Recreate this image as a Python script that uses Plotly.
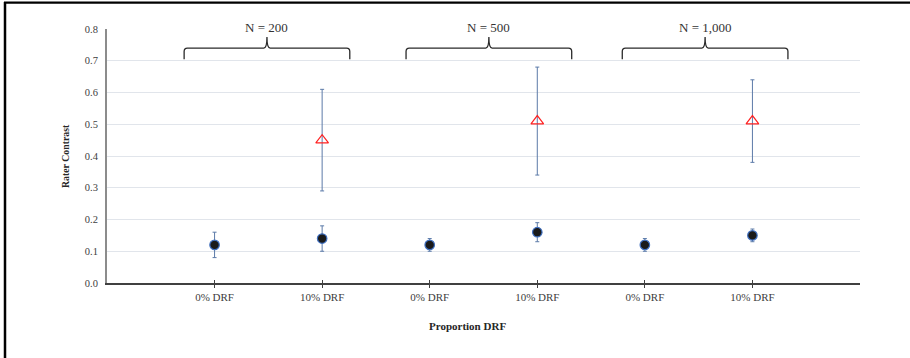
import plotly.graph_objects as go

# ---- data ----
categories = ["0% DRF", "10% DRF", "0% DRF", "10% DRF", "0% DRF", "10% DRF"]
groups = ["N = 200", "N = 500", "N = 1,000"]
brace_centers = [1.487, 3.55, 5.56]
circle_mean = [0.12, 0.14, 0.12, 0.16, 0.12, 0.15]
circle_lo = [0.08, 0.10, 0.10, 0.13, 0.10, 0.13]
circle_hi = [0.16, 0.18, 0.14, 0.19, 0.14, 0.17]
tri_mean = [0.45, 0.51, 0.51]
tri_lo = [0.29, 0.34, 0.38]
tri_hi = [0.61, 0.68, 0.64]

xpos = list(range(1, len(categories) + 1))
tri_x = [xpos[i] for i in range(1, len(categories), 2)]

W, H = 910, 358
L, R, T, B = 107, 50, 29, 75
pw, ph = W - L - R, H - T - B

FONT = "Liberation Serif, Times New Roman, serif"
ERR = "#5b7aa8"

fig = go.Figure()
fig.add_trace(go.Scatter(
    x=xpos, y=circle_mean, mode="markers",
    marker=dict(symbol="circle", size=9.5, color="#1a1a1a",
                line=dict(color="#3f6fbf", width=1.2)),
    error_y=dict(type="data", symmetric=False,
                 array=[h - m for h, m in zip(circle_hi, circle_mean)],
                 arrayminus=[m - l for l, m in zip(circle_lo, circle_mean)],
                 color=ERR, thickness=1, width=2),
    showlegend=False, cliponaxis=False))
fig.add_trace(go.Scatter(
    x=tri_x, y=tri_mean, mode="markers",
    marker=dict(symbol="triangle-up-open", size=11, color="#ff2020",
                line=dict(color="#ff2020", width=1.2)),
    error_y=dict(type="data", symmetric=False,
                 array=[h - m for h, m in zip(tri_hi, tri_mean)],
                 arrayminus=[m - l for l, m in zip(tri_lo, tri_mean)],
                 color=ERR, thickness=1, width=2),
    showlegend=False, cliponaxis=False))
# dummy trace on overlay axis for inside ticks
fig.add_trace(go.Scatter(x=[0, 7], y=[0, 0], xaxis="x2", mode="markers",
                         marker=dict(opacity=0), showlegend=False, hoverinfo="skip"))

# braces
shapes = []
annotations = []
w, dx, dy = 0.77, 0.03, 0.011
y_end, y_bar, y_tip = 0.705, 0.74, 0.775
for g, c in zip(groups, brace_centers):
    xs, xe = c - w, c + w
    path = (f"M{xs},{y_end} L{xs},{y_bar - dy} Q{xs},{y_bar} {xs + dx},{y_bar} "
            f"L{c - dx},{y_bar} Q{c},{y_bar} {c},{y_tip} Q{c},{y_bar} {c + dx},{y_bar} "
            f"L{xe - dx},{y_bar} Q{xe},{y_bar} {xe},{y_bar - dy} L{xe},{y_end}")
    shapes.append(dict(type="path", path=path, xref="x", yref="y",
                       line=dict(color="#2a2a2a", width=1.3)))
    annotations.append(dict(x=c, y=(T + ph - 27) / ph, xref="x", yref="paper", text=g,
                            showarrow=False,
                            font=dict(family=FONT, size=13, color="#333333"),
                            bgcolor="white", borderpad=0, yanchor="middle"))

annotations.append(dict(x=(467 - L) / pw, y=(T + ph - 326) / ph, xref="paper", yref="paper",
                        text="<b>Proportion DRF</b>", showarrow=False,
                        font=dict(family=FONT, size=11, color="#262626"), yanchor="middle"))
annotations.append(dict(x=(65 - L) / pw, y=0.5, xref="paper", yref="paper",
                        text="<b>Rater Contrast</b>", showarrow=False, textangle=-90,
                        font=dict(family=FONT, size=9.8, color="#262626"),
                        xanchor="center", yanchor="middle"))

# outer frame (left and top edges)
shapes.append(dict(type="line", xref="paper", yref="paper",
                   x0=(5 - L) / pw, x1=(5 - L) / pw, y0=(T + ph - 2) / ph, y1=(T + ph - H - 5) / ph,
                   line=dict(color="black", width=2.5)))
shapes.append(dict(type="line", xref="paper", yref="paper",
                   x0=(4 - L) / pw, x1=(W + 5 - L) / pw, y0=(T + ph - 2.7) / ph, y1=(T + ph - 2.7) / ph,
                   line=dict(color="black", width=2.2)))

fig.update_layout(
    width=W, height=H, margin=dict(l=L, r=R, t=T, b=B),
    paper_bgcolor="white", plot_bgcolor="white",
    font=dict(family=FONT, size=11, color="#404040"),
    xaxis=dict(range=[0, 7], tickvals=xpos, ticktext=categories, showgrid=False,
               zeroline=False, showline=True, linecolor="#404040", linewidth=1.5,
               ticks="outside", ticklen=3, tickwidth=1, tickcolor="#404040",
               tickfont=dict(family=FONT, size=11, color="#404040")),
    xaxis2=dict(range=[0, 7], overlaying="x", tickvals=xpos, ticks="inside", ticklen=3,
                tickwidth=1, tickcolor="#404040", showticklabels=False, showgrid=False,
                showline=False, zeroline=False, side="bottom", anchor="y"),
    yaxis=dict(range=[0, 0.8], dtick=0.1, tickformat=".1f", showgrid=True,
               gridcolor="#e1e5eb", gridwidth=1, zeroline=False, showline=True,
               linecolor="#8c8c8c", linewidth=2, ticks="", ticklabelstandoff=5,
               tickfont=dict(family=FONT, size=10.5, color="#404040")),
    shapes=shapes, annotations=annotations,
)

fig.write_html("out.html")
